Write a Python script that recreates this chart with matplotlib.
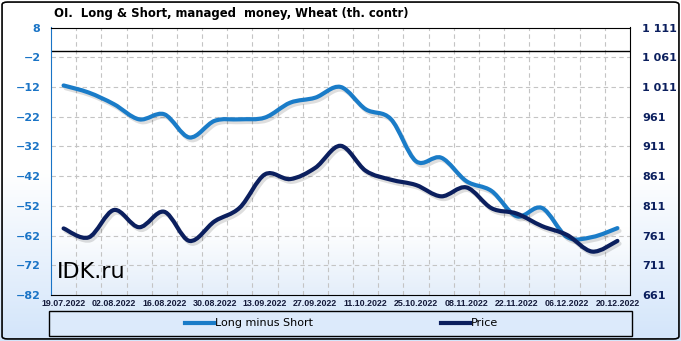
import numpy as np
import matplotlib
matplotlib.use('Agg')
import matplotlib.pyplot as plt
import matplotlib.patheffects as pe
from matplotlib.path import Path
from matplotlib.patches import PathPatch, Rectangle, FancyBboxPatch
from matplotlib.lines import Line2D
from matplotlib.ticker import FuncFormatter

# weekly COT dates (Tuesdays)
dates = ['19.07.2022', '26.07.2022', '02.08.2022', '09.08.2022', '16.08.2022',
         '23.08.2022', '30.08.2022', '06.09.2022', '13.09.2022', '20.09.2022',
         '27.09.2022', '04.10.2022', '11.10.2022', '18.10.2022', '25.10.2022',
         '01.11.2022', '08.11.2022', '15.11.2022', '22.11.2022', '29.11.2022',
         '06.12.2022', '13.12.2022', '20.12.2022']

long_minus_short = [-11.5, -13.9, -17.8, -22.9, -21.2, -29.0, -23.4, -22.9, -22.3, -17.3,
                    -15.6, -12.0, -19.5, -22.8, -37.0, -35.8, -43.7, -47.0, -55.5, -52.7,
                    -62.5, -62.5, -59.5]

price = [773, 758, 804, 775, 801, 752, 785, 808, 864, 856,
         875, 912, 870, 855, 846, 827, 842, 807, 798, 777,
         762, 734, 752]

left_ticks = list(range(-82, 9, 10))
right_ticks = list(range(661, 1112, 50))

c_lms = '#1a7cc8'
c_price = '#0b1f5e'
c_left = '#1a74c6'


def smooth_path(x, y, k=1 / 6):
    # Catmull-Rom converted to cubic Bezier segments (like Excel smoothed lines)
    pts = np.column_stack([x, y]).astype(float)
    ext = np.vstack([pts[0], pts, pts[-1]])
    verts = [pts[0]]
    codes = [Path.MOVETO]
    for i in range(len(pts) - 1):
        p0, p1, p2, p3 = ext[i], ext[i + 1], ext[i + 2], ext[i + 3]
        verts += [p1 + (p2 - p0) * k, p2 - (p3 - p1) * k, p2]
        codes += [Path.CURVE4] * 3
    return Path(verts, codes)


fig = plt.figure(figsize=(6.81, 3.41), dpi=100)

# figure background gradient
bg = fig.add_axes([0, 0, 1, 1], zorder=-2)
grad = np.linspace(0, 1, 256)[:, None]
cmap_fig = matplotlib.colors.LinearSegmentedColormap.from_list('f', ['#ffffff', '#ffffff', '#d3e5fa'])
bg.imshow(grad, aspect='auto', cmap=cmap_fig, extent=[0, 1, 0, 1])
bg.axis('off')

pos = [51 / 681, 1 - 295 / 341, 579 / 681, 267.5 / 341]
pbg = fig.add_axes(pos, zorder=-1)
cmap_ax = matplotlib.colors.LinearSegmentedColormap.from_list('a', ['#ffffff', '#ffffff', '#ffffff', '#ffffff', '#e4eefa'])
pbg.imshow(grad, aspect='auto', cmap=cmap_ax, extent=[0, 1, 0, 1])
pbg.axis('off')

ax = fig.add_axes(pos)
ax.patch.set_alpha(0)
ax2 = ax.twinx()

x = np.arange(len(dates))

ax.set_xlim(-0.5, len(dates) - 0.5)
ax.set_ylim(-82, 8)
ax2.set_ylim(661, 1111)

ax.set_yticks(left_ticks)
ax2.set_yticks(right_ticks)
ax2.yaxis.set_major_formatter(FuncFormatter(lambda v, p: f'{int(v):,}'.replace(',', ' ')))

ax.set_xticks(x[::2])
ax.set_xticklabels(dates[::2], fontsize=6.4, fontweight='bold', color='#141a3a',
                   family=['Liberation Sans', 'DejaVu Sans'])
ax.set_xticks(np.arange(0.5, len(dates) - 1, 1), minor=True)

ax.grid(which='minor', axis='x', color='#c4c4c4', linestyle=(0, (4, 3)), lw=0.8)
ax.grid(which='major', axis='y', color='#c4c4c4', linestyle=(0, (4, 3)), lw=0.8)
ax.set_axisbelow(True)
ax.axhline(0, color='black', lw=1, zorder=1)

ax.tick_params(axis='both', which='both', length=0)
ax.tick_params(axis='x', pad=3)
ax.tick_params(axis='y', labelsize=8, labelcolor=c_left, pad=7.5)
for t in ax.get_yticklabels():
    t.set_fontweight('bold')
ax2.tick_params(axis='y', length=0, labelsize=8, labelcolor=c_price, pad=9)
for t in ax2.get_yticklabels():
    t.set_fontweight('bold')

for s in ['top', 'bottom', 'right']:
    ax.spines[s].set_color('black')
ax.spines['left'].set_color(c_left)
for s in ax2.spines.values():
    s.set_visible(False)

shadow = [pe.SimpleLineShadow(offset=(1.5, -2), shadow_color='#000000', alpha=0.13), pe.Normal()]
ax.add_patch(PathPatch(smooth_path(x, long_minus_short), fill=False, edgecolor=c_lms, lw=3,
                       capstyle='round', joinstyle='round', path_effects=shadow, zorder=3))
ax2.add_patch(PathPatch(smooth_path(x, price), fill=False, edgecolor=c_price, lw=3,
                        capstyle='round', joinstyle='round', path_effects=shadow, zorder=3))

fig.text(54 / 681, 1 - 14 / 341, 'OI.  Long & Short, managed  money, Wheat (th. contr)',
         fontsize=8.4, fontweight='bold', ha='left', va='center', color='black')
fig.text(57 / 681, 1 - 272 / 341, 'IDK.ru', fontsize=16, ha='left', va='center', color='black')

# legend box
fig.add_artist(Rectangle((49 / 681, 1 - 336 / 341), 583 / 681, 25 / 341, transform=fig.transFigure,
                         facecolor='#dceafb', edgecolor='black', lw=1, zorder=1))
handles = [Line2D([], [], color=c_lms, lw=3), Line2D([], [], color=c_price, lw=3)]
leg = fig.legend(handles, ['Long minus Short', 'Price'], loc='center',
                 bbox_to_anchor=(341.5 / 681, 1 - 323.5 / 341), ncol=2, frameon=False,
                 fontsize=8, handlelength=2.6, handletextpad=0.1, columnspacing=11.5)
leg.set_zorder(5)

fig.add_artist(FancyBboxPatch((0.003, 0.006), 0.994, 0.988, boxstyle='round,pad=0,rounding_size=0.008',
                              transform=fig.transFigure, fill=False, edgecolor='black', lw=1.2, zorder=6))

fig.savefig('out.png', dpi=100)
